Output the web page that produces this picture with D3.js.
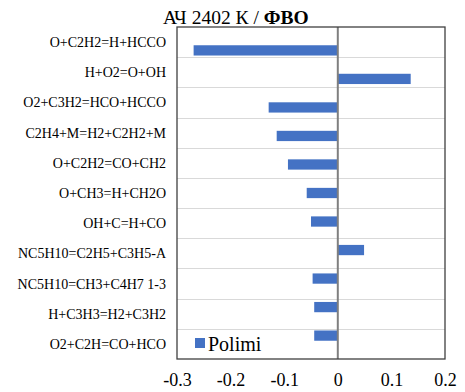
<!DOCTYPE html>
<html>
<head>
<meta charset="utf-8">
<script src="https://cdn.jsdelivr.net/npm/d3@7"></script>
<style>
  body { margin: 0; background: #fff; }
  svg text { font-family: "Liberation Serif", "Times New Roman", Times, "DejaVu Serif", serif; fill: #000; }
</style>
</head>
<body>
<script>
// data
var reactions = ["O+C2H2=H+HCCO", "H+O2=O+OH", "O2+C3H2=HCO+HCCO", "C2H4+M=H2+C2H2+M",
                 "O+C2H2=CO+CH2", "O+CH3=H+CH2O", "OH+C=H+CO", "NC5H10=C2H5+C3H5-A",
                 "NC5H10=CH3+C4H7 1-3", "H+C3H3=H2+C3H2", "O2+C2H=CO+HCO"];
var polimi = [-0.269, 0.136, -0.129, -0.114, -0.093, -0.058, -0.050, 0.049, -0.047, -0.044, -0.044];
var xTicks = [-0.3, -0.2, -0.1, 0, 0.1, 0.2];

var serif = "'Liberation Serif', 'Times New Roman', Times, 'DejaVu Serif', serif";

// dimensions and margins
var margin = {top: 27, right: 20, bottom: 33, left: 177},
    width = 465 - margin.left - margin.right,
    height = 392 - margin.top - margin.bottom;

var x = d3.scaleLinear().domain([-0.3, 0.2]).range([0, width]);
var y = d3.scaleBand().domain(reactions).range([0, height]).padding(0.64);
var yRow = d3.scaleBand().domain(reactions).range([0, height]).padding(0);

var svgRoot = d3.select("body").append("svg")
    .attr("width", 465)
    .attr("height", 392)
    .attr("font-family", serif);

var svg = svgRoot.append("g")
    .attr("transform", "translate(" + margin.left + "," + margin.top + ")");

// horizontal gridlines between categories
svg.selectAll(".grid")
    .data(reactions.slice(1))
    .enter().append("line")
    .attr("x1", 0)
    .attr("x2", width)
    .attr("y1", function(d) { return Math.round(yRow(d)) + 0.5; })
    .attr("y2", function(d) { return Math.round(yRow(d)) + 0.5; })
    .attr("stroke", "#d9d9d9")
    .attr("stroke-width", 1);

// bars
svg.selectAll(".bar")
    .data(polimi)
    .enter().append("rect")
    .attr("x", function(d) { return x(Math.min(0, d)); })
    .attr("width", function(d) { return Math.abs(x(d) - x(0)); })
    .attr("y", function(d, i) { return y(reactions[i]); })
    .attr("height", y.bandwidth())
    .attr("fill", "#4472c4");

// zero line
svg.append("line")
    .attr("x1", x(0)).attr("x2", x(0))
    .attr("y1", 0).attr("y2", height)
    .attr("stroke", "#7f7f7f")
    .attr("stroke-width", 2);

// frame
svg.append("rect")
    .attr("x", 0).attr("y", 0)
    .attr("width", width).attr("height", height)
    .attr("fill", "none")
    .attr("stroke", "#404040")
    .attr("stroke-width", 1.3);

// category labels
svg.selectAll(".cat")
    .data(reactions)
    .enter().append("text")
    .attr("x", -11)
    .attr("y", function(d) { return yRow(d) + yRow.bandwidth() / 2 + 5; })
    .attr("text-anchor", "end")
    .style("font-family", serif)
    .style("font-size", "14px")
    .text(function(d) { return d; });

// x axis
var xAxis = svg.append("g")
    .attr("transform", "translate(0," + height + ")")
    .call(d3.axisBottom(x).tickValues(xTicks).tickSize(0)
        .tickFormat(function(d) { return d3.format("")(d).replace("\u2212", "-"); }));
xAxis.attr("font-family", serif);
xAxis.select(".domain").remove();
xAxis.selectAll("text")
    .attr("y", 27)
    .attr("dy", null)
    .style("font-family", serif)
    .style("font-size", "18px")
    .attr("fill", "#000");

// legend
svg.append("rect")
    .attr("x", 195 - margin.left)
    .attr("y", 338 - margin.top)
    .attr("width", 10).attr("height", 10)
    .attr("fill", "#4472c4");
svg.append("text")
    .attr("x", 208 - margin.left)
    .attr("y", 351 - margin.top)
    .style("font-family", serif)
    .style("font-size", "20px")
    .text("Polimi");

// title
var title = svgRoot.append("text")
    .attr("x", 163)
    .attr("y", 24)
    .style("font-family", serif)
    .style("font-size", "19.5px");
title.append("tspan").text("АЧ 2402 К / ");
title.append("tspan").style("font-weight", "bold").text("ФВО");
</script>
</body>
</html>
